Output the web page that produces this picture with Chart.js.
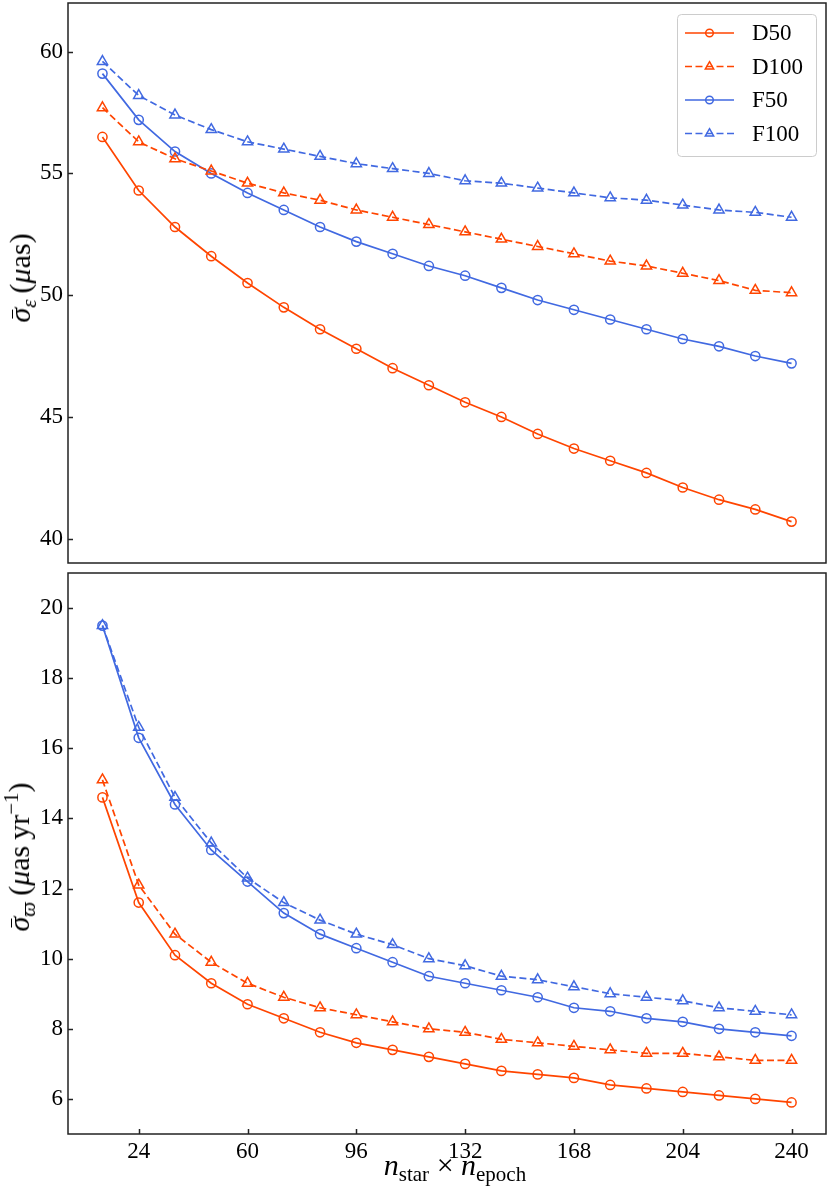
<!DOCTYPE html>
<html>
<head>
<meta charset="utf-8">
<script src="https://cdn.jsdelivr.net/npm/chart.js@4.4.1/dist/chart.umd.min.js"></script>
<style>
  html, body { margin: 0; padding: 0; background: #fff; }
  body { width: 830px; height: 1195px; position: relative; overflow: hidden; font-family: "Liberation Serif", serif; color: #000; }
  .panel { position: absolute; left: 0; width: 830px; }
  #top-wrap { top: 0; height: 568px; }
  #bottom-wrap { top: 568px; height: 627px; }
  .ylab, .xlab { position: absolute; font-size: 30px; white-space: nowrap; line-height: 34px; }
  .ylab { transform: translate(-50%, -50%) rotate(-90deg); }
  .xlab { transform: translateX(-50%); }
  sub { font-size: 21px; vertical-align: -6px; line-height: 0; }
  sup { font-size: 21px; vertical-align: 11px; line-height: 0; }
  .bar { position: relative; font-style: italic; }
  .bar::before { content: ""; position: absolute; left: 0.14em; right: 0.06em; top: 0.3em; border-top: 1.5px solid #000; }
</style>
</head>
<body>
<div class="panel" id="top-wrap"><canvas id="top-chart"></canvas></div>
<div class="panel" id="bottom-wrap"><canvas id="bottom-chart"></canvas></div>
<div class="ylab" style="left:20px; top:278px;"><span class="bar">σ</span><sub><i>ε</i></sub>&thinsp;(<i>μ</i>as)</div>
<div class="ylab" style="left:19px; top:857px;"><span class="bar">σ</span><sub><i>ϖ</i></sub>&thinsp;(<i>μ</i>as&thinsp;yr<sup>−1</sup>)</div>
<div class="xlab" style="left:455px; top:1148px;"><i>n</i><sub>star</sub> × <i>n</i><sub>epoch</sub></div>

<script>
const nObs = [12, 24, 36, 48, 60, 72, 84, 96, 108, 120, 132, 144, 156, 168, 180, 192, 204, 216, 228, 240];
const xTicks = [24, 60, 96, 132, 168, 204, 240];
const epsTicks = [40, 45, 50, 55, 60];
const varpiTicks = [6, 8, 10, 12, 14, 16, 18, 20];

// top panel: sigma_eps (muas)
const epsD50 = [56.5, 54.3, 52.8, 51.6, 50.5, 49.5, 48.6, 47.8, 47.0, 46.3, 45.6, 45.0, 44.3, 43.7, 43.2, 42.7, 42.1, 41.6, 41.2, 40.7];
const epsD100 = [57.7, 56.3, 55.6, 55.1, 54.6, 54.2, 53.9, 53.5, 53.2, 52.9, 52.6, 52.3, 52.0, 51.7, 51.4, 51.2, 50.9, 50.6, 50.2, 50.1];
const epsF50 = [59.1, 57.2, 55.9, 55.0, 54.2, 53.5, 52.8, 52.2, 51.7, 51.2, 50.8, 50.3, 49.8, 49.4, 49.0, 48.6, 48.2, 47.9, 47.5, 47.2];
const epsF100 = [59.6, 58.2, 57.4, 56.8, 56.3, 56.0, 55.7, 55.4, 55.2, 55.0, 54.7, 54.6, 54.4, 54.2, 54.0, 53.9, 53.7, 53.5, 53.4, 53.2];

// bottom panel: sigma_varpi (muas/yr)
const varpiD50 = [14.6, 11.6, 10.1, 9.3, 8.7, 8.3, 7.9, 7.6, 7.4, 7.2, 7.0, 6.8, 6.7, 6.6, 6.4, 6.3, 6.2, 6.1, 6.0, 5.9];
const varpiD100 = [15.1, 12.1, 10.7, 9.9, 9.3, 8.9, 8.6, 8.4, 8.2, 8.0, 7.9, 7.7, 7.6, 7.5, 7.4, 7.3, 7.3, 7.2, 7.1, 7.1];
const varpiF50 = [19.5, 16.3, 14.4, 13.1, 12.2, 11.3, 10.7, 10.3, 9.9, 9.5, 9.3, 9.1, 8.9, 8.6, 8.5, 8.3, 8.2, 8.0, 7.9, 7.8];
const varpiF100 = [19.5, 16.6, 14.6, 13.3, 12.3, 11.6, 11.1, 10.7, 10.4, 10.0, 9.8, 9.5, 9.4, 9.2, 9.0, 8.9, 8.8, 8.6, 8.5, 8.4];

const seriesNames = ["D50", "D100", "F50", "F100"];

const orange = "rgb(255, 69, 0)";
const blue = "rgb(65, 105, 225)";
const styles = [
  { color: orange, dash: [], point: "circle", radius: 4.6 },
  { color: orange, dash: [7, 3.5], point: "triangle", radius: 5.9 },
  { color: blue, dash: [], point: "circle", radius: 4.6 },
  { color: blue, dash: [7, 3.5], point: "triangle", radius: 5.9 },
];
const serif = "'Liberation Serif', 'Times New Roman', serif";

function makeDatasets(list) {
  return list.map((vals, k) => ({
    label: seriesNames[k],
    data: nObs.map((n, i) => ({ x: n, y: vals[i] })),
    borderColor: styles[k].color,
    borderWidth: 1.7,
    borderDash: styles[k].dash,
    backgroundColor: "transparent",
    pointStyle: styles[k].point,
    pointRadius: styles[k].radius,
    pointBorderWidth: 1.5,
    pointBorderColor: styles[k].color,
    pointBackgroundColor: "transparent",
    tension: 0,
  }));
}

// box + inward ticks, matplotlib style
const framePlugin = {
  id: "frame",
  afterDraw(chart, args, opts) {
    const { ctx, chartArea: a, scales } = chart;
    ctx.save();
    ctx.strokeStyle = "#222";
    ctx.lineWidth = 1.5;
    ctx.beginPath();
    scales.y.ticks.forEach((t) => {
      const y = Math.round(scales.y.getPixelForValue(t.value)) + 0.5;
      ctx.moveTo(a.left, y);
      ctx.lineTo(a.left + 5, y);
    });
    if (opts.xTicks) {
      scales.x.ticks.forEach((t) => {
        const x = Math.round(scales.x.getPixelForValue(t.value)) + 0.5;
        ctx.moveTo(x, a.bottom);
        ctx.lineTo(x, a.bottom - 5);
      });
    }
    ctx.stroke();
    ctx.strokeRect(a.left, a.top, a.right - a.left, a.bottom - a.top);
    ctx.restore();
  },
};

function drawMarker(ctx, style, x, y) {
  ctx.beginPath();
  if (style.point === "circle") {
    ctx.arc(x, y, style.radius, 0, Math.PI * 2);
  } else {
    const r = style.radius;
    ctx.moveTo(x, y - r);
    ctx.lineTo(x + r * Math.sin(Math.PI * 2 / 3), y - r * Math.cos(Math.PI * 2 / 3));
    ctx.lineTo(x - r * Math.sin(Math.PI * 2 / 3), y - r * Math.cos(Math.PI * 2 / 3));
    ctx.closePath();
  }
  ctx.stroke();
}

const boxLegend = {
  id: "boxLegend",
  afterDraw(chart, args, opts) {
    if (!opts.show) return;
    const ctx = chart.ctx;
    const left = 677, top = 14, w = 139, h = 142, r = 4;
    ctx.save();
    ctx.fillStyle = "rgba(255,255,255,0.8)";
    ctx.strokeStyle = "#cccccc";
    ctx.lineWidth = 1;
    ctx.beginPath();
    ctx.roundRect(left + 0.5, top + 0.5, w, h, r);
    ctx.fill();
    ctx.stroke();
    chart.data.datasets.forEach((ds, k) => {
      const y = 33 + k * 33.5;
      const st = styles[k];
      ctx.strokeStyle = st.color;
      ctx.lineWidth = 1.7;
      ctx.setLineDash(st.dash);
      ctx.beginPath();
      ctx.moveTo(685, y);
      ctx.lineTo(734, y);
      ctx.stroke();
      ctx.setLineDash([]);
      ctx.lineWidth = 1.5;
      drawMarker(ctx, { point: st.point, radius: st.point === "circle" ? 3.8 : 4.8 }, 709.5, y);
      ctx.fillStyle = "#000";
      ctx.font = "23px " + serif;
      ctx.textBaseline = "middle";
      ctx.textAlign = "left";
      ctx.fillText(ds.label, 752, y + 1);
    });
    ctx.restore();
  },
};

// chart.js pads for half tick labels; the reference axes sit flush
function noPad(s) {
  s.paddingTop = 0;
  s.paddingBottom = 0;
  s.paddingLeft = 0;
  s.paddingRight = 0;
}

function makeChart(id, datasets, yTicks, yMin, yMax, showX, pad) {
  return new Chart(document.getElementById(id), {
    type: "line",
    data: { datasets: datasets },
    plugins: [framePlugin, boxLegend],
    options: {
      responsive: true,
      maintainAspectRatio: false,
      animation: false,
      layout: { padding: pad, autoPadding: false },
      plugins: {
        legend: { display: false },
        tooltip: { enabled: false },
        frame: { xTicks: showX },
        boxLegend: { show: !showX },
      },
      scales: {
        x: {
          type: "linear",
          display: showX,
          min: 0.6,
          max: 251.4,
          afterBuildTicks: (s) => { s.ticks = xTicks.map((v) => ({ value: v })); },
          afterFit: (s) => { s.height = showX ? 61 : 0; noPad(s); },
          grid: { display: false, drawTicks: false },
          border: { display: false },
          ticks: {
            color: "#000",
            font: { family: serif, size: 23 },
            padding: 4,
            maxRotation: 0,
            callback: (v) => String(v),
          },
        },
        y: {
          min: yMin,
          max: yMax,
          afterBuildTicks: (s) => { s.ticks = yTicks.map((v) => ({ value: v })); },
          afterFit: (s) => { s.width = 68; noPad(s); },
          grid: { display: false, drawTicks: false },
          border: { display: false },
          ticks: {
            color: "#000",
            font: { family: serif, size: 23 },
            padding: 5,
            callback: (v) => String(v),
          },
        },
      },
    },
  });
}

makeChart("top-chart", makeDatasets([epsD50, epsD100, epsF50, epsF100]), epsTicks, 39, 62, false,
  { left: 0, right: 4, top: 3, bottom: 5 });
makeChart("bottom-chart", makeDatasets([varpiD50, varpiD100, varpiF50, varpiF100]), varpiTicks, 5, 21, true,
  { left: 0, right: 4, top: 5, bottom: 0 });
</script>
</body>
</html>
